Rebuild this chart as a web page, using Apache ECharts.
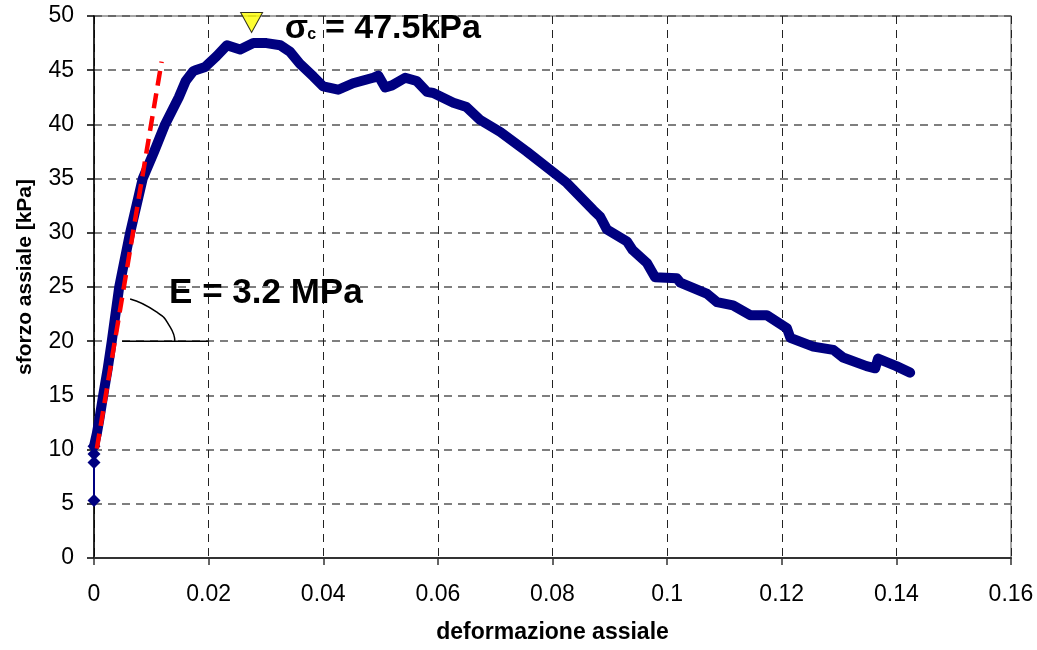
<!DOCTYPE html>
<html>
<head>
<meta charset="utf-8">
<script src="https://cdn.jsdelivr.net/npm/echarts@6/dist/echarts.min.js"></script>
<style>
html,body{margin:0;padding:0;background:#fff;}
#c{width:1037px;height:650px;}
</style>
</head>
<body>
<div id="c"></div>
<script>
// ---- data ----
var xTicks = [0, 0.02, 0.04, 0.06, 0.08, 0.1, 0.12, 0.14, 0.16];
var yTicks = [0, 5, 10, 15, 20, 25, 30, 35, 40, 45, 50];

var startStrain = [0, 0, 0, 0];
var startStress = [5.3, 8.8, 9.6, 10.3];

var strain = [0, 0.0002, 0.0005, 0.0009, 0.0016, 0.0024, 0.0031, 0.0044, 0.0063, 0.0085, 0.0105, 0.0124, 0.0148, 0.016, 0.0173, 0.0177, 0.0194, 0.0214, 0.0232, 0.0255, 0.0278, 0.0301, 0.0325, 0.0342, 0.0359, 0.0383, 0.04, 0.0426, 0.0452, 0.0487, 0.0496, 0.0508, 0.052, 0.0543, 0.0563, 0.0581, 0.0592, 0.0627, 0.065, 0.0674, 0.0709, 0.0755, 0.0801, 0.0825, 0.0871, 0.0883, 0.0895, 0.093, 0.094, 0.0965, 0.0979, 0.1017, 0.1023, 0.1069, 0.1087, 0.1115, 0.1145, 0.1174, 0.1209, 0.1215, 0.1255, 0.129, 0.1307, 0.1348, 0.1363, 0.1368, 0.14, 0.1424];
var stress = [10.3, 10.8, 11.5, 12.7, 15, 17.5, 20, 25, 30, 35, 37.5, 40, 42.5, 44, 44.9, 45.0, 45.3, 46.3, 47.3, 46.9, 47.5, 47.5, 47.3, 46.7, 45.6, 44.4, 43.5, 43.2, 43.8, 44.3, 44.5, 43.4, 43.6, 44.3, 44.0, 43.0, 42.9, 42.0, 41.6, 40.4, 39.3, 37.5, 35.6, 34.6, 32.1, 31.5, 30.3, 29.2, 28.4, 27.2, 25.9, 25.8, 25.4, 24.4, 23.6, 23.3, 22.4, 22.4, 21.2, 20.3, 19.5, 19.2, 18.5, 17.7, 17.5, 18.4, 17.7, 17.1];

// tangent (modulus) line
var tanStrain = [0.0005, 0.0118];
var tanStress = [10.1, 45.8];

// angle marker: horizontal leg and arc
var legStrain = [0.0049, 0.0199];
var legStress = [20, 20];
var arcStrain = [0.0063, 0.0109, 0.0133, 0.0141];
var arcStress = [23.9, 22.7, 21.3, 20.0];

// peak marker
var peakStrain = [0.0275];
var peakStress = [49.4];

var peakLabelSigma = 'σ';
var peakLabelSub = 'c';
var peakLabelRest = '= 47.5kPa';
var modulusLabel = 'E = 3.2 MPa';

var xName = 'deformazione assiale';
var yName = 'sforzo assiale [kPa]';

function zip(a, b) { return a.map(function (v, i) { return [v, b[i]]; }); }

var FONT = '"Liberation Sans", Arial, sans-serif';

var chart = echarts.init(document.getElementById('c'), null, {renderer: 'canvas'});

var option = {
  animation: false,
  backgroundColor: '#ffffff',
  grid: {
    left: 94, right: 26, top: 16, bottom: 92,
    show: true, borderColor: '#8a8a8a', borderWidth: 1.5, backgroundColor: 'transparent'
  },
  xAxis: {
    type: 'value',
    min: xTicks[0], max: xTicks[xTicks.length - 1], interval: xTicks[1] - xTicks[0],
    name: xName, nameLocation: 'middle', nameGap: 63,
    nameTextStyle: {fontFamily: FONT, fontWeight: 'bold', fontSize: 23, color: '#000'},
    axisLine: {show: true, onZero: false, lineStyle: {color: '#333', width: 2}},
    axisTick: {show: true, inside: false, length: 7, lineStyle: {color: '#333', width: 1.5}},
    axisLabel: {fontFamily: FONT, fontSize: 23, color: '#000', margin: 25,
      formatter: function (v) { return String(+v.toFixed(4)); }},
    splitLine: {show: true, lineStyle: {color: '#222', width: 1, type: [8, 6]}}
  },
  yAxis: {
    type: 'value',
    min: yTicks[0], max: yTicks[yTicks.length - 1], interval: yTicks[1] - yTicks[0],
    name: yName, nameLocation: 'middle', nameGap: 58,
    nameTextStyle: {fontFamily: FONT, fontWeight: 'bold', fontSize: 21, color: '#000', padding: [0, 0, 0, 20]},
    axisLine: {show: true, onZero: false, lineStyle: {color: '#000', width: 1.5}},
    axisTick: {show: true, inside: false, length: 7, lineStyle: {color: '#000', width: 1.5}},
    axisLabel: {fontFamily: FONT, fontSize: 23, color: '#000', margin: 20},
    splitLine: {show: true, lineStyle: {color: '#555', width: 1.5, type: [8, 6]}}
  },
  series: [
    {
      type: 'line', data: zip(startStrain, startStress),
      symbol: 'diamond', symbolSize: 13, showSymbol: true,
      lineStyle: {color: '#000080', width: 2},
      itemStyle: {color: '#000080'}, z: 3
    },
    {
      type: 'line', data: zip(strain, stress),
      symbol: 'none',
      lineStyle: {color: '#000080', width: 10, cap: 'round', join: 'round'},
      z: 3
    },
    {
      type: 'line', data: zip(tanStrain, tanStress),
      symbol: 'none',
      lineStyle: {color: '#ff0000', width: 4.5, type: [15, 8]},
      z: 4
    },
    {
      type: 'line', data: zip(legStrain, legStress),
      symbol: 'none',
      lineStyle: {color: '#000', width: 1.5},
      z: 4
    },
    {
      type: 'line', data: zip(arcStrain, arcStress),
      symbol: 'none', smooth: 0.6,
      lineStyle: {color: '#000', width: 1.5},
      z: 4
    },
    {
      type: 'scatter', data: zip(peakStrain, peakStress),
      symbol: 'triangle', symbolRotate: 180, symbolSize: [22, 20], clip: false,
      itemStyle: {color: '#ffff00', borderColor: '#000', borderWidth: 1},
      z: 5
    }
  ]
};
chart.setOption(option);

// text annotations anchored in data units
var sigAnchor = [0.0333, 48.85];
var subAnchor = [0.0372, 48.3];
var restAnchor = [0.0403, 48.85];
var eAnchor = [0.0131, 24.4];

function px(p) { return chart.convertToPixel({gridIndex: 0}, p); }
var a1 = px(sigAnchor), a2 = px(subAnchor), a3 = px(restAnchor), a4 = px(eAnchor);
chart.setOption({
  graphic: [
    {type: 'text', x: a1[0], y: a1[1], z: 10, style: {text: peakLabelSigma, font: 'bold 34px ' + FONT, fill: '#000', verticalAlign: 'middle', align: 'left'}},
    {type: 'text', x: a2[0], y: a2[1], z: 10, style: {text: peakLabelSub, font: 'bold 16px ' + FONT, fill: '#000', verticalAlign: 'middle', align: 'left'}},
    {type: 'text', x: a3[0], y: a3[1], z: 10, style: {text: peakLabelRest, font: 'bold 34px ' + FONT, fill: '#000', verticalAlign: 'middle', align: 'left'}},
    {type: 'text', x: a4[0], y: a4[1], z: 10, style: {text: modulusLabel, font: 'bold 35px ' + FONT, fill: '#000', verticalAlign: 'middle', align: 'left'}}
  ]
});
</script>
</body>
</html>
